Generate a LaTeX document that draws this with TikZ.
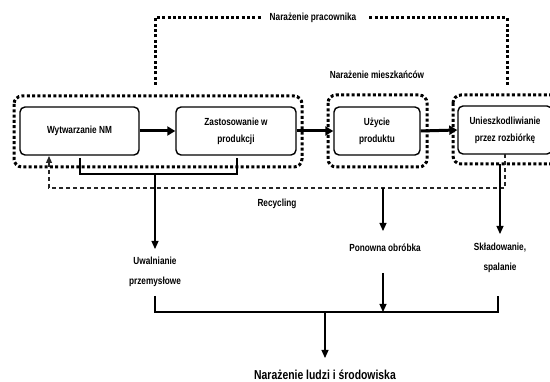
\documentclass[tikz,border=0pt]{standalone}
\usepackage{fontspec}
\setmainfont{Liberation Sans}[FakeStretch=0.8]
\usetikzlibrary{arrows.meta}
\begin{document}
\begin{tikzpicture}[x=1pt,y=-1pt,
  txt/.style={font=\fontsize{10.3}{17}\selectfont\bfseries, align=center, inner sep=0pt},
  procbox/.style={draw, line width=1.4pt, rounded corners=5pt, minimum height=48pt, txt},
  dotbox/.style={line width=3pt, dash pattern=on 3pt off 2.3pt, rounded corners=8pt},
  dotline/.style={line width=3pt, dash pattern=on 3pt off 2.3pt},
  thickarrow/.style={line width=3pt, -{Triangle[length=8pt,width=9pt]}},
  flow/.style={line width=1.1pt},
  flowarrow/.style={line width=1.1pt, -{Triangle[length=8pt,width=7pt]}},
  recyc/.style={line width=1.2pt, black!85, dash pattern=on 4pt off 3pt}]
\useasboundingbox (0,0) rectangle (550,382);
% process boxes
\node[procbox, minimum width=119pt] (A) at (79.5,131) {Wytwarzanie NM};
\node[procbox, minimum width=120pt] (B) at (236,131) {Zastosowanie w\\produkcji};
\node[procbox, minimum width=86pt] (C) at (377,131) {Użycie\\produktu};
\node[procbox, minimum width=94pt] (D) at (505,130) {Unieszkodliwianie\\przez rozbiórkę};
% dotted exposure boxes
\draw[dotbox] (14,96) rectangle (302,167);
\draw[dotbox] (328,95) rectangle (427,167);
\draw[dotbox] (453,95) rectangle (570,164);
% arrows between boxes
\draw[thickarrow] (A.east) -- (B.west);
\draw[thickarrow] (B.east) -- (C.west);
\draw[thickarrow] (C.east) -- (D.west);
% worker exposure
\node[txt] (np) at (313,18) {Narażenie pracownika};
\coordinate (npl) at (155,85);
\coordinate (npr) at (507,85);
\draw[dotline] (npl) |- ([xshift=-8pt]np.west);
\draw[dotline] ([xshift=13pt]np.east) -| (npr);
% residents exposure
\node[txt] (nm) at (377,75) {Narażenie mieszkańców};
% bracket under first two boxes
\coordinate (b1) at (80,158);
\coordinate (b2) at (237,158);
\coordinate (bm) at (155,174);
\draw[flow] (b1) |- (bm) -| (b2);
\node[txt, font=\fontsize{10.3}{20}\selectfont\bfseries] (uw) at (155,272) {Uwalnianie\\przemysłowe};
\draw[flowarrow] (bm) -- (155,249);
% recycling
\coordinate (rr) at (505,154);
\coordinate (rl) at (49,188);
\draw[recyc, -{Triangle[length=7pt,width=6pt]}] (rr) |- (rl) -- (49,156);
\node[txt] (rec) at (277,204) {Recycling};
% reprocessing
\coordinate (pt) at (383,188);
\node[txt] (po) at (385,248) {Ponowna obróbka};
\draw[flowarrow] (pt) -- (383,231);
% landfill
\coordinate (st) at (500,164);
\node[txt, font=\fontsize{10.3}{20}\selectfont\bfseries] (sk) at (500,258) {Składowanie,\\spalanie};
\draw[flowarrow] (st) -- (500,234);
% bottom collection
\coordinate (cl) at (155,296);
\coordinate (cr) at (498,296);
\coordinate (cb) at (325,312);
\draw[flow] (cl) |- (cb) -| (cr);
\draw[flowarrow] (383,273) -- (383,312);
\node[txt, font=\fontsize{13}{15}\selectfont\bfseries] (nl) at (325,375) {Narażenie ludzi i środowiska};
\draw[flowarrow] (cb) -- (325,358);
\end{tikzpicture}
\end{document}
